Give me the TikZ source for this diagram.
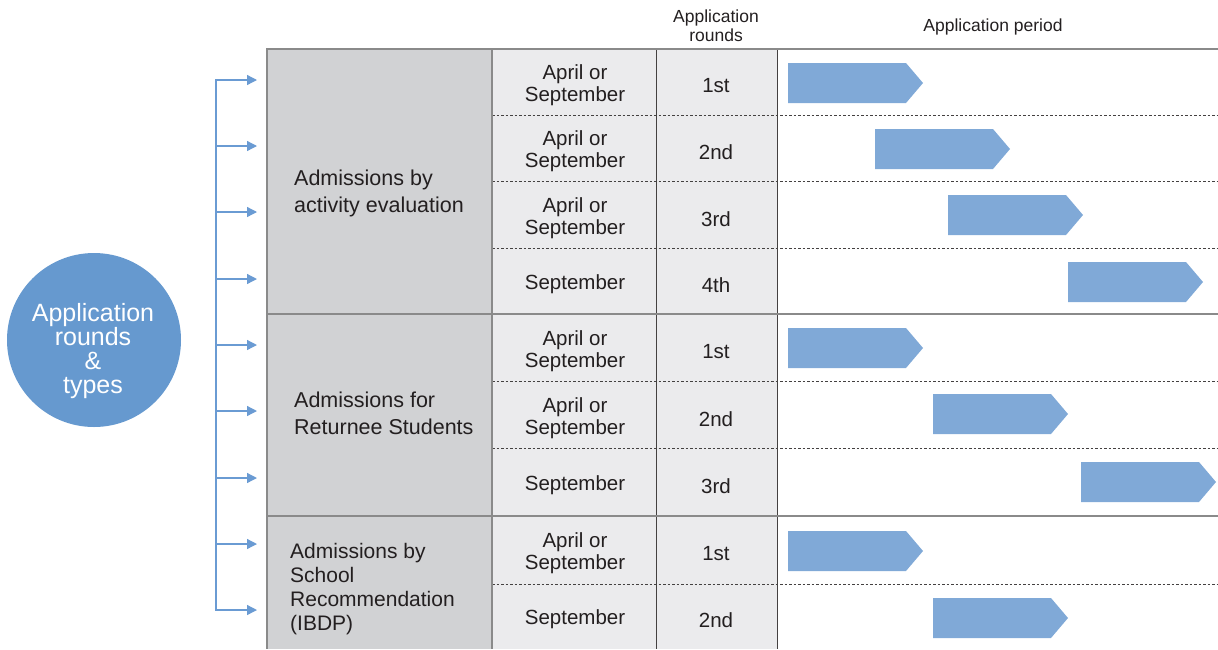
\documentclass[tikz,border=0pt]{standalone}
\usepackage{fontspec}
\setmainfont{Liberation Sans}
\usetikzlibrary{arrows.meta}
\definecolor{typegray}{HTML}{D1D2D4}
\definecolor{cellgray}{HTML}{EBEBED}
\definecolor{barblue}{HTML}{80A9D7}
\definecolor{hubblue}{HTML}{6699CF}
\definecolor{linkblue}{HTML}{6A9BD3}
\definecolor{txt}{HTML}{231F20}
\definecolor{rulegray}{HTML}{8A8A8A}
\tikzset{
  celltext/.style={text=txt, align=center, inner sep=0pt, font=\fontsize{20.5}{22}\selectfont},
  typetext/.style={text=txt, align=left, anchor=west, inner sep=0pt, font=\fontsize{21.5}{27}\selectfont},
  headtext/.style={text=txt, align=center, inner sep=0pt, font=\fontsize{17.5}{19}\selectfont},
  bar/.style={fill=barblue},
  link/.style={draw=linkblue, line width=1.3pt, -{Triangle[length=10pt,width=10pt]}},
  majorrule/.style={draw=rulegray, line width=2pt},
  minorrule/.style={draw=txt!85, line width=0.9pt},
  dashrule/.style={draw=txt!85, line width=0.8pt, dash pattern=on 2.5pt off 2pt},
}
\begin{document}
\begin{tikzpicture}[x=1pt,y=-1pt]
\useasboundingbox (0,0) rectangle (1218,649);
% fills
\fill[typegray] (267,49) rectangle (492,649);
\fill[cellgray] (492,49) rectangle (777,649);
% dashed row separators
\foreach \y in {115,181,248,381,448,584}
  \draw[dashrule] (492,\y) -- (1218,\y);
% column lines
\draw[minorrule] (656,49) -- (656,649);
\draw[minorrule] (777,49) -- (777,649);
\draw[majorrule] (492,49) -- (492,649);
\draw[majorrule] (267,48) -- (267,649);
% section lines
\draw[majorrule] (266,49) -- (1218,49);
\draw[majorrule] (267,314) -- (1218,314);
\draw[majorrule] (267,516) -- (1218,516);
% headers
\node[headtext] (hrounds) at (716,26) {Application\\rounds};
\node[headtext] (hperiod) at (993,27) {Application period};
% hub
\node[circle, fill=hubblue, minimum size=174pt, inner sep=0pt] (hub) at (94,340) {};
\node[text=white, align=center, inner sep=0pt, font=\fontsize{25}{24}\selectfont]
  (hublabel) at (93,351) {Application\\rounds\\\&\\types};
% types
\node[typetext] (typeA) at (294,193) {Admissions by\\activity evaluation};
\node[typetext] (typeB) at (294,413) {Admissions for\\Returnee Students};
\node[typetext, font=\fontsize{21}{24}\selectfont] (typeC) at (290,589) {Admissions by\\School\\Recommendation\\(IBDP)};
% month + round cells
\foreach \n/\y/\m/\r in {1/85/{April or\\September}/1st, 2/151/{April or\\September}/2nd,
    3/218/{April or\\September}/3rd, 4/284/September/4th,
    5/351/{April or\\September}/1st, 6/418/{April or\\September}/2nd,
    7/485/September/3rd, 8/553/{April or\\September}/1st, 9/619/September/2nd}{
  \node[celltext] (month\n) at (575,\y) {\m};
  \node[celltext] (round\n) at (716,\y+1) {\r};
}
% period bars
\foreach \n/\x/\y in {1/788/83, 2/875/149, 3/948/215, 4/1068/282, 5/788/348,
    6/933/414, 7/1081/482, 8/788/551, 9/933/618}{
  \fill[bar] (\x,\y-20) -- ++(118,0) -- ++(17,20) -- ++(-17,20) -- ++(-118,0) -- cycle;
}
% bracket
\coordinate (btop) at (216,80);
\coordinate (bbot) at (216,610);
\draw[draw=linkblue, line width=1.3pt] (btop) -- (bbot);
\foreach \n/\y in {1/80,2/146,3/212,4/279,5/345,6/411,7/478,8/544,9/610}{
  \coordinate (from\n) at (215.4,\y);
  \coordinate (to\n) at (257,\y);
  \draw[link] (from\n) -- (to\n);
}
\end{tikzpicture}
\end{document}
